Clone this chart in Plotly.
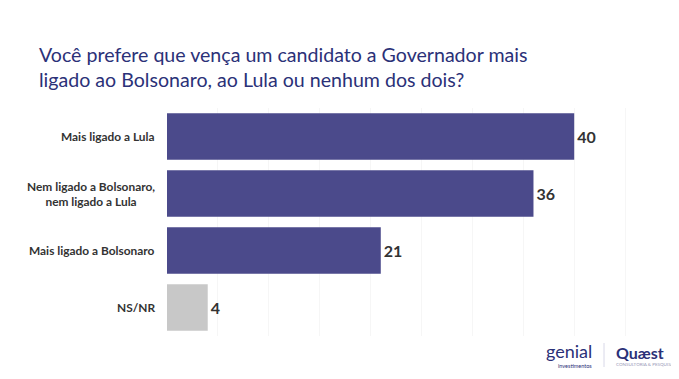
import plotly.graph_objects as go

categories = ["Mais ligado a Lula", "Nem ligado a Bolsonaro,<br>nem ligado a Lula", "Mais ligado a Bolsonaro", "NS/NR"]
values = [40, 36, 21, 4]
colors = ["#4b4a8b", "#4b4a8b", "#4b4a8b", "#c8c8c8"]

# page has an 8px body margin; work in screen coordinates and convert
OFF = 8
W, H = 679 - OFF, 379 - OFF
PL, PR, PT, PB = 167, 676, 108, 336  # plot area in screen pixels
L, T = PL - OFF, PT - OFF
R, B = W - (PR - OFF), H - (PB - OFF)
px_w = W - L - R
px_h = H - T - B

def px(xs, ys):
    xf, yf = xs - OFF, ys - OFF
    return (xf - L) / px_w, 1 - (yf - T) / px_h

fig = go.Figure()
fig.add_trace(go.Bar(
    y=categories, x=values, orientation="h",
    marker=dict(color=colors, line=dict(width=0)),
    text=[str(v) for v in values], textposition="outside",
    textfont=dict(family="Lato", size=16, color="#333333", weight="bold"),
    cliponaxis=False,
    width=0.82,
))

for c in categories:
    fig.add_annotation(
        x=0, xref="paper", y=c, yref="y", xshift=-10,
        xanchor="right", yanchor="middle", align="center",
        text=c, showarrow=False,
        font=dict(family="Lato", size=11.9, color="#333333", weight="bold"),
    )

tx, ty = px(37, 41)
fig.add_annotation(
    x=tx, y=ty, xref="paper", yref="paper", xanchor="left", yanchor="top",
    text="Você prefere que vença um candidato a Governador mais<br>ligado ao Bolsonaro, ao Lula ou nenhum dos dois?",
    showarrow=False, align="left",
    font=dict(family="Lato", size=19.6, color="#2b3178"),
)

fig.update_layout(
    width=W, height=H,
    margin=dict(l=L, r=R, t=T, b=B, autoexpand=False),
    paper_bgcolor="white", plot_bgcolor="white",
    showlegend=False,
    xaxis=dict(range=[0, 50], dtick=5, showgrid=True, gridcolor="#f6f6f6", gridwidth=1,
               showticklabels=False, zeroline=False, showline=False, ticks=""),
    yaxis=dict(autorange="reversed", showticklabels=False, showgrid=False, zeroline=False, ticks=""),
)

# logos as text
gx, gy = px(594, 351)
fig.add_annotation(x=gx, y=gy, xref="paper", yref="paper", text="genial", showarrow=False,
                   xanchor="right", yanchor="middle",
                   font=dict(family="Lato", size=18, color="#2b3178"))
gx2, gy2 = px(594, 366)
fig.add_annotation(x=gx2, y=gy2, xref="paper", yref="paper", text="investimentos", showarrow=False,
                   xanchor="right", yanchor="middle",
                   font=dict(family="Lato", size=5.5, color="#2b3178"))
lx0, ly0 = px(604, 343)
lx1, ly1 = px(604, 367)
fig.add_shape(type="line", xref="paper", yref="paper", x0=lx0, x1=lx1, y0=ly0, y1=ly1,
              line=dict(color="#d8d8e8", width=1))
qx, qy = px(614, 352)
fig.add_annotation(x=qx, y=qy, xref="paper", yref="paper", text="Quæst", showarrow=False,
                   xanchor="left", yanchor="middle",
                   font=dict(family="Lato", size=16, color="#2b3178", weight="bold"))
qx2, qy2 = px(614, 364)
fig.add_annotation(x=qx2, y=qy2, xref="paper", yref="paper", text="CONSULTORIA & PESQUISA", showarrow=False,
                   xanchor="left", yanchor="middle",
                   font=dict(family="Lato", size=4.5, color="#9a9ab8"))

fig.write_html("out.html")
